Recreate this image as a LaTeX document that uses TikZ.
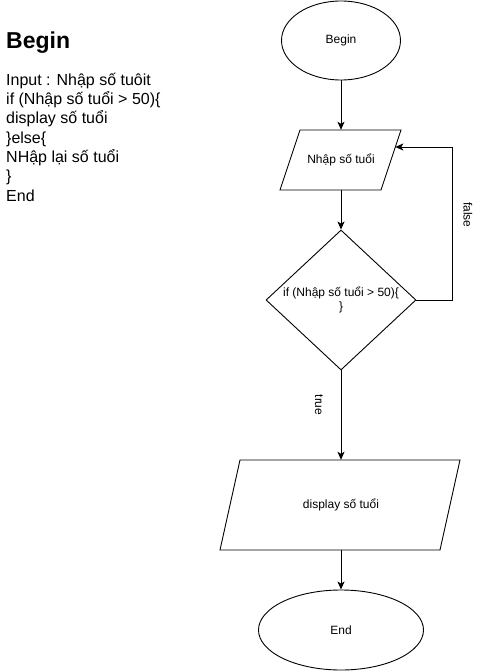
\documentclass[tikz,border=0pt]{standalone}
\usepackage{fontspec}
\setmainfont{Liberation Sans}
\usetikzlibrary{shapes.geometric,arrows.meta}
\tikzset{
  shp/.style={draw, line width=0.9pt, inner sep=0pt},
  lbl/.style={font=\fontsize{12pt}{14.4pt}\selectfont, inner sep=0pt},
  body/.style={font=\fontsize{16pt}{19.2pt}\selectfont, anchor=base west, inner sep=0pt},
  arr/.style={draw, line width=0.9pt, -{Stealth[length=8pt,width=7pt,inset=2pt]}},
}
\begin{document}
\begin{tikzpicture}[x=1pt,y=-1pt]
\useasboundingbox (0,0) rectangle (486,671);
% left text
\node[anchor=base west, inner sep=0pt, font=\fontsize{23pt}{27pt}\selectfont\bfseries] (title) at (6,48.5) {Begin};
\node[body] (l1) at (6,85.2) {Input : Nhập số tuôit};
\node[body] (l2) at (6,104.5) {if (Nhập số tuổi > 50)\{};
\node[body] (l3) at (6,123.8) {display số tuổi};
\node[body] (l4) at (6,143.1) {\}else\{};
\node[body] (l5) at (6,162.4) {NHập lại số tuổi};
\node[body] (l6) at (6,181.7) {\}};
\node[body] (l7) at (6,201.0) {End};
% flowchart
\node[shp, ellipse, minimum width=119pt, minimum height=79pt, lbl] (begin) at (341,40.5) {Begin};
\draw[line width=0.9pt] (300,130) -- (401,130) -- (381,190) -- (280,190) -- cycle;
\node[lbl, minimum width=100pt, minimum height=60pt] (p1) at (341,160) {Nhập số tuổi};
\node[shp, diamond, minimum width=150pt, minimum height=140pt] (d) at (341,300) {};
\node[lbl, align=center] (dt) at (341,300) {if (Nhập số tuổi > 50)\{\\\}};
\draw[line width=0.9pt] (240,460) -- (460,460) -- (440,550) -- (220,550) -- cycle;
\node[lbl, minimum width=200pt, minimum height=90pt] (p2) at (341,505) {display số tuổi};
\node[shp, ellipse, minimum width=165pt, minimum height=80pt, lbl] (end) at (341,630) {End};
\coordinate (pin) at (395.3,147);
% connectors
\draw[arr] (begin.south) -- (p1.north);
\draw[arr] (p1.south) -- (d.north);
\draw[arr] (d.east) -- ++(36,0) |- (pin);
\draw[arr] (d.south) -- (p2.north);
\draw[arr] (p2.south) -- (end.north);
\node[lbl, rotate=-90] (fl) at (468,215) {false};
\node[lbl, rotate=-90] (tl) at (319,405) {true};
\end{tikzpicture}
\end{document}
